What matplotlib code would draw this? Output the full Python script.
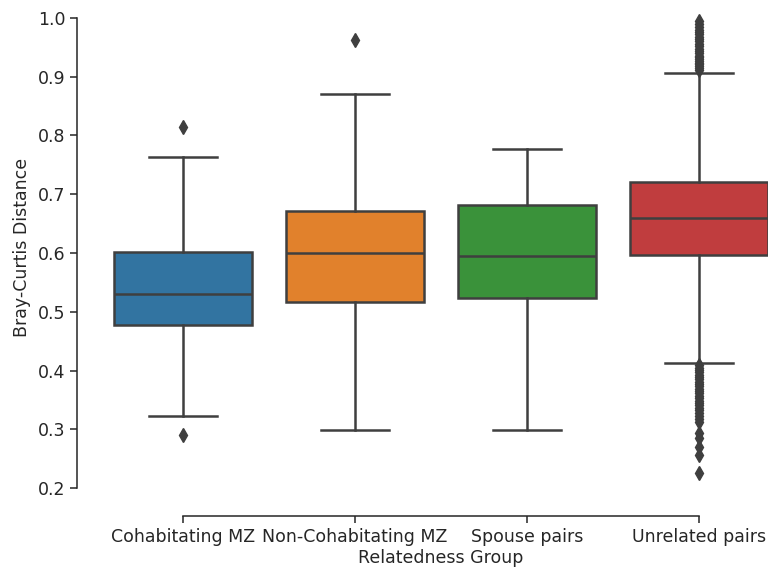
import matplotlib
matplotlib.use("Agg")
import matplotlib.pyplot as plt
import seaborn as sns

groups = ["Cohabitating MZ", "Non-Cohabitating MZ", "Spouse pairs", "Unrelated pairs"]
q1 = [0.477, 0.516, 0.523, 0.597]
medians = [0.530, 0.600, 0.595, 0.660]
q3 = [0.601, 0.672, 0.681, 0.721]
whislo = [0.323, 0.298, 0.299, 0.412]
whishi = [0.764, 0.871, 0.777, 0.907]
fliers = [
    [0.815, 0.290],
    [0.963],
    [],
    [0.912, 0.915, 0.918, 0.921, 0.924, 0.927, 0.930, 0.933, 0.936, 0.940,
     0.944, 0.948, 0.952, 0.956, 0.960, 0.964, 0.968, 0.972, 0.976, 0.980,
     0.985, 0.990, 0.995,
     0.409, 0.405, 0.401, 0.397, 0.393, 0.389, 0.385, 0.381, 0.377, 0.373,
     0.369, 0.365, 0.361, 0.357, 0.353, 0.349, 0.345, 0.341, 0.337, 0.333,
     0.328, 0.323, 0.318, 0.312, 0.294, 0.285, 0.270, 0.256, 0.225],
]
colors = ["#3274a1", "#e1812c", "#3a923a", "#c03d3e"]

LINE = "#3f3f3f"
TEXT = "#262626"

fig = plt.figure(figsize=(7.68, 5.69), dpi=100)
ax = fig.add_axes([0.1263, 0.1283, 0.8958, 0.8747])

stats = []
for i, g in enumerate(groups):
    stats.append(dict(label=g, q1=q1[i], med=medians[i], q3=q3[i],
                      whislo=whislo[i], whishi=whishi[i], fliers=fliers[i]))

lw = 1.8
bp = ax.bxp(stats, positions=range(len(groups)), widths=0.8, patch_artist=True,
            showfliers=True,
            boxprops=dict(edgecolor=LINE, linewidth=lw),
            medianprops=dict(color=LINE, linewidth=lw),
            whiskerprops=dict(color=LINE, linewidth=lw),
            capprops=dict(color=LINE, linewidth=lw),
            capwidths=0.4,
            flierprops=dict(marker="d", markerfacecolor=LINE, markeredgecolor=LINE,
                            markersize=7.5, linestyle="none"))
for patch, c in zip(bp["boxes"], colors):
    patch.set_facecolor(c)

ax.set_xlim(-0.5, 3.5)
ax.set_ylim(0.1865, 1.0335)
ax.set_yticks([0.2, 0.3, 0.4, 0.5, 0.6, 0.7, 0.8, 0.9, 1.0])
ax.set_xticks(range(len(groups)))
ax.set_xticklabels(groups)
ax.tick_params(labelsize=12.5, colors=TEXT, length=5, width=1.1)
ax.set_xlabel("Relatedness Group", fontsize=12.5, color=TEXT, labelpad=2)
ax.set_ylabel("Bray-Curtis Distance", fontsize=12.5, color=TEXT, labelpad=5)
for s in ax.spines.values():
    s.set_color(TEXT)
    s.set_linewidth(1.1)
sns.despine(ax=ax, offset=14.4, trim=True)

fig.savefig("out.png", dpi=100)
